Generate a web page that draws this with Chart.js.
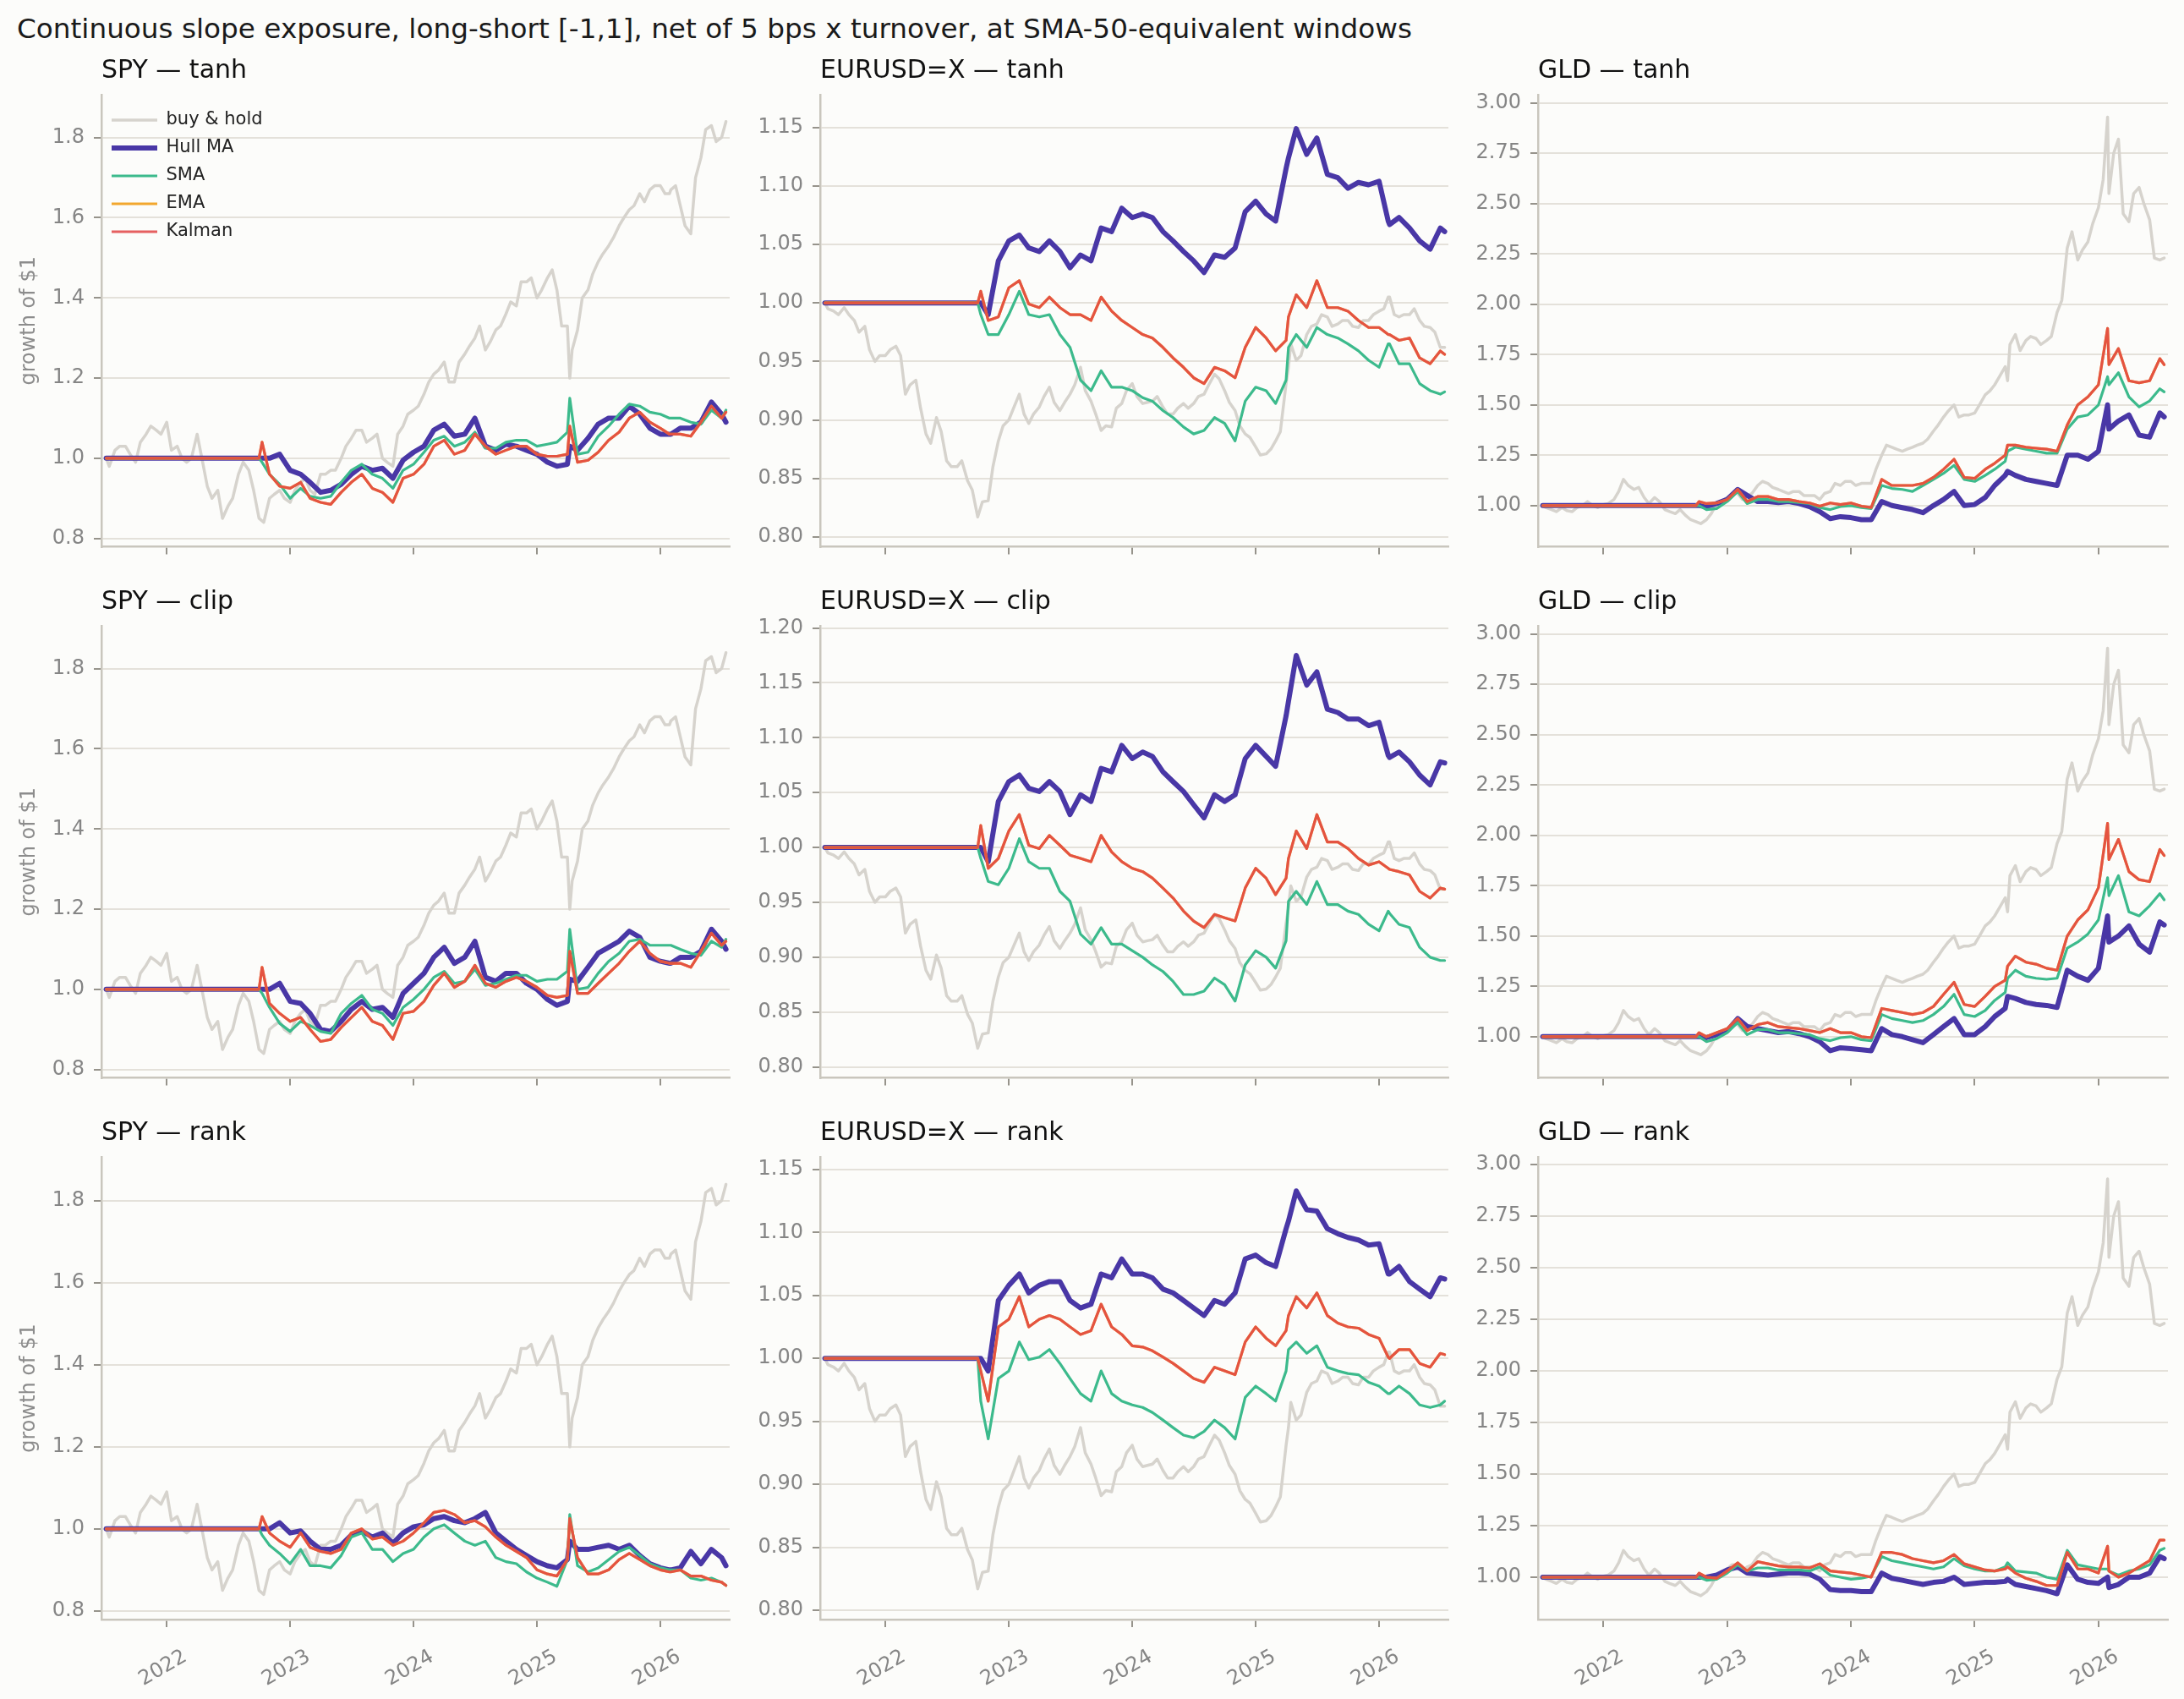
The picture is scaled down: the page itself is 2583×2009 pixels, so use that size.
<!DOCTYPE html>
<html>
<head>
<meta charset="utf-8">
<script src="https://cdn.jsdelivr.net/npm/chart.js@4"></script>
<style>
  body { margin: 0; background: #fcfcfa; width: 2583px; height: 2009px; position: relative; overflow: hidden; font-family: "DejaVu Sans", sans-serif; }
  #titulo { position: absolute; left: 20px; top: 15px; font-size: 32.7px; line-height: 38px; color: #1a1a1a; white-space: nowrap; }
  .panel { position: absolute; }
</style>
</head>
<body>
<div id="titulo">Continuous slope exposure, long-short [-1,1], net of 5 bps x turnover, at SMA-50-equivalent windows</div>
<script>
// sample dates for the strategies (roughly monthly, plus a few event days)
const dates = ['2021-07-06','2021-08-01','2021-09-01','2021-10-01','2021-11-01','2021-12-01',
  '2022-01-01','2022-02-01','2022-03-01','2022-04-01','2022-05-01','2022-06-01','2022-07-01','2022-08-01','2022-09-01','2022-10-01','2022-10-10','2022-11-01','2022-12-01',
  '2023-01-01','2023-02-01','2023-03-01','2023-04-01','2023-05-01','2023-06-01','2023-07-01','2023-08-01','2023-09-01','2023-10-01','2023-11-01','2023-12-01',
  '2024-01-01','2024-02-01','2024-03-01','2024-04-01','2024-05-01','2024-06-01','2024-07-01','2024-08-01','2024-09-01','2024-10-01','2024-11-01','2024-12-01',
  '2025-01-01','2025-02-01','2025-03-01','2025-04-01','2025-04-08','2025-05-01','2025-06-01','2025-07-01','2025-08-01','2025-09-01','2025-10-01','2025-11-01','2025-12-01',
  '2026-01-01','2026-01-28','2026-02-01','2026-03-01','2026-04-01','2026-05-01','2026-06-01','2026-07-01','2026-07-14'];

// buy & hold is read twice a month
const bhDates = ['2021-07-06','2021-07-15','2021-08-01','2021-08-15','2021-09-01','2021-09-15','2021-10-01','2021-10-15','2021-11-01','2021-11-15','2021-12-01','2021-12-15',
  '2022-01-01','2022-01-15','2022-02-01','2022-02-15','2022-03-01','2022-03-15','2022-04-01','2022-04-15','2022-05-01','2022-05-15','2022-06-01','2022-06-15',
  '2022-07-01','2022-07-15','2022-08-01','2022-08-15','2022-09-01','2022-09-15','2022-10-01','2022-10-15','2022-11-01','2022-11-15','2022-12-01','2022-12-15',
  '2023-01-01','2023-01-15','2023-02-01','2023-02-15','2023-03-01','2023-03-15','2023-04-01','2023-04-15','2023-05-01','2023-05-15','2023-06-01','2023-06-15',
  '2023-07-01','2023-07-15','2023-08-01','2023-08-15','2023-09-01','2023-09-15','2023-10-01','2023-10-15','2023-11-01','2023-11-15','2023-12-01','2023-12-15',
  '2024-01-01','2024-01-15','2024-02-01','2024-02-15','2024-03-01','2024-03-15','2024-04-01','2024-04-15','2024-05-01','2024-05-15','2024-06-01','2024-06-15',
  '2024-07-01','2024-07-15','2024-08-01','2024-08-15','2024-09-01','2024-09-15','2024-10-01','2024-10-15','2024-11-01','2024-11-15','2024-12-01','2024-12-15',
  '2025-01-01','2025-01-15','2025-02-01','2025-02-15','2025-03-01','2025-03-15','2025-04-01','2025-04-08','2025-04-15','2025-05-01','2025-05-15','2025-06-01','2025-06-15',
  '2025-07-01','2025-07-15','2025-08-01','2025-08-15','2025-09-01','2025-09-15','2025-10-01','2025-10-15','2025-11-01','2025-11-15','2025-12-01','2025-12-15',
  '2026-01-01','2026-01-15','2026-01-28','2026-02-01','2026-02-15','2026-03-01','2026-03-15','2026-04-01','2026-04-15','2026-05-01','2026-05-15','2026-06-01','2026-06-15',
  '2026-07-01','2026-07-14'];

const yearTicks = [2022, 2023, 2024, 2025, 2026];

// strategies sit flat at 1.0 during the warm-up window
const warmup = [1, 1, 1, 1, 1, 1, 1, 1, 1, 1, 1, 1, 1, 1, 1, 1];

// ---- SPY ----
const spyBH = [1.00, 0.98, 1.02, 1.03, 1.03, 1.01, 0.99, 1.04, 1.06, 1.08, 1.07, 1.06,
  1.09, 1.02, 1.03, 1.00, 0.99, 1.00, 1.06, 1.00, 0.93, 0.90, 0.92, 0.85,
  0.88, 0.90, 0.96, 0.99, 0.97, 0.92, 0.85, 0.84, 0.90, 0.91, 0.92, 0.90,
  0.89, 0.92, 0.94, 0.95, 0.92, 0.91, 0.96, 0.96, 0.97, 0.97, 1.00, 1.03,
  1.05, 1.07, 1.07, 1.04, 1.05, 1.06, 1.00, 0.99, 0.98, 1.06, 1.08, 1.11,
  1.12, 1.13, 1.16, 1.19, 1.21, 1.22, 1.24, 1.19, 1.19, 1.24, 1.26, 1.28,
  1.30, 1.33, 1.27, 1.29, 1.32, 1.33, 1.36, 1.39, 1.38, 1.44, 1.44, 1.45,
  1.40, 1.42, 1.45, 1.47, 1.42, 1.33, 1.33, 1.20, 1.27, 1.32, 1.40, 1.42, 1.46,
  1.49, 1.51, 1.53, 1.55, 1.58, 1.60, 1.62, 1.63, 1.66, 1.64, 1.67, 1.68,
  1.68, 1.66, 1.66, 1.67, 1.68, 1.63, 1.58, 1.56, 1.70, 1.75, 1.82, 1.83, 1.79,
  1.80, 1.84];

const spyTanhHull = [...warmup, 1.00, 1.00, 1.01,
  0.97, 0.96, 0.94, 0.915, 0.92, 0.935, 0.96, 0.98, 0.97, 0.975, 0.95, 0.995,
  1.015, 1.03, 1.07, 1.085, 1.055, 1.06, 1.10, 1.03, 1.02, 1.035, 1.03, 1.02,
  1.01, 0.99, 0.98, 0.985, 1.03, 1.02, 1.05, 1.085, 1.10, 1.10, 1.13, 1.11, 1.075,
  1.06, 1.06, 1.06, 1.075, 1.075, 1.09, 1.14, 1.11, 1.09];
const spyTanhSma = [...warmup, 0.99, 0.96, 0.935,
  0.90, 0.925, 0.905, 0.90, 0.905, 0.94, 0.97, 0.985, 0.96, 0.95, 0.925, 0.97,
  0.985, 1.015, 1.045, 1.055, 1.03, 1.04, 1.065, 1.025, 1.025, 1.04, 1.045, 1.045,
  1.03, 1.035, 1.04, 1.065, 1.15, 1.01, 1.015, 1.055, 1.08, 1.11, 1.135, 1.13, 1.115,
  1.11, 1.10, 1.10, 1.10, 1.09, 1.085, 1.12, 1.10, 1.12];
const spyTanhKalman = [...warmup, 1.04, 0.96, 0.93,
  0.925, 0.94, 0.90, 0.89, 0.885, 0.915, 0.94, 0.96, 0.925, 0.915, 0.89, 0.95,
  0.96, 0.985, 1.03, 1.045, 1.01, 1.02, 1.06, 1.03, 1.01, 1.02, 1.03, 1.03,
  1.01, 1.005, 1.005, 1.01, 1.08, 0.99, 0.995, 1.015, 1.045, 1.065, 1.10, 1.115, 1.09,
  1.075, 1.06, 1.06, 1.06, 1.055, 1.09, 1.13, 1.10, 1.115];

const spyClipHull = [...warmup, 1.00, 1.00, 1.015,
  0.97, 0.965, 0.94, 0.90, 0.895, 0.92, 0.95, 0.97, 0.95, 0.955, 0.93, 0.99,
  1.015, 1.04, 1.08, 1.105, 1.065, 1.08, 1.12, 1.03, 1.02, 1.04, 1.04, 1.015,
  1.00, 0.975, 0.96, 0.97, 1.025, 1.02, 1.055, 1.09, 1.105, 1.12, 1.145, 1.13, 1.08,
  1.07, 1.065, 1.065, 1.08, 1.08, 1.095, 1.15, 1.12, 1.10];
const spyClipSma = [...warmup, 0.99, 0.955, 0.915,
  0.895, 0.92, 0.91, 0.895, 0.89, 0.94, 0.965, 0.985, 0.95, 0.94, 0.91, 0.955,
  0.975, 1.00, 1.03, 1.045, 1.015, 1.02, 1.05, 1.01, 1.015, 1.025, 1.035, 1.035,
  1.02, 1.025, 1.025, 1.045, 1.15, 1.00, 1.005, 1.04, 1.07, 1.09, 1.12, 1.125, 1.11,
  1.11, 1.11, 1.11, 1.10, 1.09, 1.085, 1.12, 1.105, 1.125];
const spyClipKalman = [...warmup, 1.055, 0.965, 0.94,
  0.92, 0.93, 0.90, 0.87, 0.875, 0.905, 0.93, 0.955, 0.92, 0.91, 0.875, 0.94,
  0.945, 0.97, 1.01, 1.04, 1.005, 1.02, 1.06, 1.015, 1.005, 1.02, 1.03, 1.02,
  1.005, 0.985, 0.98, 0.985, 1.095, 0.99, 0.99, 1.015, 1.04, 1.065, 1.095, 1.12, 1.09,
  1.07, 1.065, 1.065, 1.065, 1.055, 1.095, 1.14, 1.11, 1.12];

const spyRankHull = [...warmup, 1.00, 1.00, 1.015,
  0.99, 0.995, 0.97, 0.95, 0.95, 0.96, 0.985, 0.995, 0.98, 0.99, 0.965, 0.99,
  1.005, 1.01, 1.025, 1.03, 1.02, 1.015, 1.025, 1.04, 0.99, 0.97, 0.95, 0.935,
  0.92, 0.91, 0.905, 0.925, 0.97, 0.95, 0.95, 0.955, 0.96, 0.95, 0.96, 0.935, 0.915,
  0.905, 0.90, 0.90, 0.905, 0.945, 0.915, 0.95, 0.93, 0.91];
const spyRankSma = [...warmup, 0.985, 0.96, 0.94,
  0.915, 0.95, 0.91, 0.91, 0.905, 0.935, 0.98, 0.99, 0.95, 0.95, 0.92, 0.94,
  0.95, 0.98, 1.00, 1.01, 0.99, 0.97, 0.96, 0.97, 0.93, 0.92, 0.915, 0.895,
  0.88, 0.87, 0.86, 0.925, 1.035, 0.91, 0.895, 0.905, 0.925, 0.945, 0.955, 0.935, 0.915,
  0.905, 0.90, 0.90, 0.90, 0.88, 0.875, 0.88, 0.87, 0.862];
const spyRankKalman = [...warmup, 1.03, 0.99, 0.97,
  0.955, 0.99, 0.955, 0.945, 0.94, 0.95, 0.99, 1.00, 0.975, 0.98, 0.96, 0.97,
  0.99, 1.015, 1.04, 1.045, 1.035, 1.015, 1.02, 1.005, 0.98, 0.96, 0.945, 0.93,
  0.90, 0.89, 0.885, 0.925, 1.025, 0.93, 0.89, 0.89, 0.90, 0.925, 0.94, 0.925, 0.91,
  0.90, 0.895, 0.895, 0.90, 0.885, 0.885, 0.875, 0.87, 0.862];

// ---- EURUSD=X ----
const eurBH = [1.000, 0.995, 0.993, 0.990, 0.996, 0.990, 0.985, 0.975, 0.980, 0.960, 0.950, 0.955,
  0.955, 0.960, 0.963, 0.955, 0.922, 0.930, 0.934, 0.910, 0.888, 0.880, 0.902, 0.890,
  0.865, 0.860, 0.860, 0.865, 0.848, 0.840, 0.817, 0.830, 0.831, 0.860, 0.882, 0.895,
  0.900, 0.910, 0.922, 0.905, 0.897, 0.905, 0.911, 0.920, 0.928, 0.915, 0.908, 0.915,
  0.922, 0.930, 0.945, 0.925, 0.916, 0.905, 0.891, 0.895, 0.894, 0.910, 0.914, 0.925,
  0.931, 0.920, 0.914, 0.915, 0.916, 0.920, 0.911, 0.905, 0.905, 0.910, 0.914, 0.910,
  0.914, 0.920, 0.922, 0.930, 0.939, 0.935, 0.925, 0.915, 0.908, 0.895, 0.888, 0.885,
  0.877, 0.870, 0.871, 0.875, 0.882, 0.890, 0.931, 0.945, 0.965, 0.951, 0.955, 0.973, 0.980,
  0.982, 0.990, 0.988, 0.980, 0.982, 0.985, 0.985, 0.980, 0.979, 0.985, 0.985, 0.990,
  0.993, 0.995, 1.005, 1.005, 0.990, 0.988, 0.990, 0.990, 0.995, 0.985, 0.980, 0.979, 0.975,
  0.962, 0.962];

const eurTanhHull = [...warmup, 1.00, 0.99, 1.036,
  1.053, 1.058, 1.047, 1.044, 1.053, 1.044, 1.03, 1.041, 1.036, 1.064, 1.061, 1.081,
  1.073, 1.076, 1.073, 1.061, 1.053, 1.044, 1.036, 1.026, 1.041, 1.039, 1.047, 1.078,
  1.087, 1.076, 1.07, 1.115, 1.124, 1.149, 1.127, 1.141, 1.11, 1.107, 1.098, 1.103, 1.101,
  1.104, 1.07, 1.067, 1.073, 1.064, 1.053, 1.046, 1.064, 1.061];
const eurTanhSma = [...warmup, 0.99, 0.973, 0.973,
  0.99, 1.01, 0.99, 0.988, 0.99, 0.973, 0.962, 0.934, 0.925, 0.942, 0.928, 0.928,
  0.925, 0.919, 0.916, 0.908, 0.902, 0.894, 0.888, 0.891, 0.902, 0.897, 0.882, 0.916,
  0.928, 0.925, 0.914, 0.934, 0.962, 0.973, 0.962, 0.979, 0.973, 0.97, 0.965, 0.959, 0.951,
  0.945, 0.965, 0.965, 0.948, 0.948, 0.931, 0.925, 0.922, 0.924];
const eurTanhKalman = [...warmup, 1.01, 0.985, 0.988,
  1.013, 1.019, 0.999, 0.996, 1.005, 0.996, 0.99, 0.99, 0.985, 1.005, 0.993, 0.985,
  0.979, 0.973, 0.97, 0.962, 0.953, 0.945, 0.936, 0.931, 0.945, 0.942, 0.936, 0.962,
  0.979, 0.97, 0.959, 0.968, 0.988, 1.007, 0.996, 1.019, 0.996, 0.996, 0.993, 0.985, 0.979,
  0.979, 0.973, 0.973, 0.968, 0.97, 0.953, 0.948, 0.959, 0.956];

const eurClipHull = [...warmup, 1.00, 0.987, 1.042,
  1.06, 1.066, 1.054, 1.051, 1.06, 1.051, 1.03, 1.048, 1.042, 1.072, 1.069, 1.093,
  1.081, 1.087, 1.083, 1.069, 1.06, 1.051, 1.039, 1.027, 1.048, 1.042, 1.048, 1.081,
  1.093, 1.083, 1.074, 1.12, 1.133, 1.175, 1.148, 1.16, 1.126, 1.123, 1.117, 1.117, 1.111,
  1.114, 1.084, 1.082, 1.087, 1.078, 1.066, 1.057, 1.078, 1.077];
const eurClipSma = [...warmup, 0.99, 0.969, 0.966,
  0.981, 1.008, 0.987, 0.981, 0.981, 0.96, 0.951, 0.921, 0.912, 0.927, 0.912, 0.912,
  0.906, 0.90, 0.893, 0.887, 0.878, 0.866, 0.866, 0.869, 0.881, 0.875, 0.86, 0.893,
  0.906, 0.90, 0.89, 0.915, 0.951, 0.96, 0.948, 0.969, 0.948, 0.948, 0.942, 0.939, 0.93,
  0.924, 0.942, 0.94, 0.93, 0.927, 0.909, 0.90, 0.897, 0.897];
const eurClipKalman = [...warmup, 1.02, 0.981, 0.99,
  1.015, 1.03, 1.002, 0.999, 1.011, 1.002, 0.993, 0.99, 0.987, 1.011, 0.996, 0.987,
  0.981, 0.978, 0.972, 0.963, 0.954, 0.942, 0.933, 0.927, 0.939, 0.936, 0.933, 0.963,
  0.981, 0.972, 0.957, 0.972, 0.99, 1.015, 0.999, 1.03, 1.005, 1.005, 0.999, 0.99, 0.984,
  0.987, 0.981, 0.98, 0.978, 0.975, 0.96, 0.954, 0.963, 0.962];

const eurRankHull = [...warmup, 1.00, 0.99, 1.046,
  1.058, 1.067, 1.052, 1.058, 1.061, 1.061, 1.046, 1.04, 1.043, 1.067, 1.064, 1.079,
  1.067, 1.067, 1.064, 1.055, 1.052, 1.046, 1.04, 1.034, 1.046, 1.043, 1.052, 1.079,
  1.082, 1.076, 1.073, 1.103, 1.109, 1.133, 1.118, 1.117, 1.103, 1.099, 1.096, 1.094, 1.09,
  1.091, 1.067, 1.067, 1.073, 1.061, 1.055, 1.049, 1.064, 1.063];
const eurRankSma = [...warmup, 0.966, 0.936, 0.984,
  0.99, 1.013, 0.999, 1.001, 1.007, 0.996, 0.984, 0.972, 0.966, 0.99, 0.972, 0.966,
  0.963, 0.961, 0.957, 0.951, 0.945, 0.939, 0.937, 0.942, 0.951, 0.945, 0.936, 0.969,
  0.978, 0.972, 0.966, 0.99, 1.007, 1.013, 1.004, 1.01, 0.993, 0.99, 0.988, 0.987, 0.981,
  0.978, 0.972, 0.972, 0.978, 0.972, 0.963, 0.961, 0.963, 0.966];
const eurRankKalman = [...warmup, 0.99, 0.966, 1.025,
  1.031, 1.049, 1.025, 1.031, 1.034, 1.031, 1.025, 1.019, 1.022, 1.043, 1.025, 1.019,
  1.01, 1.009, 1.006, 1.001, 0.996, 0.99, 0.984, 0.981, 0.993, 0.99, 0.987, 1.013,
  1.025, 1.016, 1.01, 1.022, 1.034, 1.049, 1.04, 1.052, 1.034, 1.028, 1.025, 1.024, 1.019,
  1.016, 1.001, 1.0, 1.007, 1.007, 0.996, 0.993, 1.004, 1.003];

// ---- GLD ----
const gldBH = [1.00, 0.99, 0.98, 0.97, 0.99, 0.975, 0.97, 0.99, 1.00, 1.02, 1.00, 0.99,
  1.005, 1.01, 1.03, 1.07, 1.13, 1.10, 1.08, 1.09, 1.04, 1.01, 1.04, 1.02,
  0.98, 0.97, 0.96, 0.98, 0.95, 0.93, 0.92, 0.91, 0.93, 0.96, 1.01, 1.02,
  1.04, 1.06, 1.06, 1.03, 1.05, 1.06, 1.10, 1.12, 1.11, 1.09, 1.08, 1.07,
  1.06, 1.07, 1.07, 1.05, 1.05, 1.05, 1.03, 1.06, 1.07, 1.11, 1.10, 1.12,
  1.12, 1.10, 1.11, 1.11, 1.11, 1.18, 1.25, 1.30, 1.29, 1.28, 1.27, 1.28,
  1.29, 1.30, 1.31, 1.33, 1.37, 1.40, 1.44, 1.47, 1.50, 1.44, 1.45, 1.45,
  1.46, 1.50, 1.55, 1.57, 1.60, 1.64, 1.69, 1.62, 1.80, 1.85, 1.77, 1.82, 1.84,
  1.83, 1.80, 1.82, 1.84, 1.96, 2.02, 2.28, 2.36, 2.22, 2.27, 2.31, 2.40,
  2.48, 2.62, 2.93, 2.55, 2.75, 2.82, 2.45, 2.41, 2.55, 2.58, 2.50, 2.42, 2.23,
  2.22, 2.23];

const gldTanhHull = [...warmup, 1.00, 0.995, 1.01,
  1.03, 1.08, 1.05, 1.02, 1.02, 1.015, 1.02, 1.01, 0.995, 0.97, 0.935, 0.945,
  0.94, 0.93, 0.93, 1.02, 1.00, 0.99, 0.98, 0.965, 1.00, 1.03, 1.07, 1.00,
  1.005, 1.04, 1.10, 1.15, 1.17, 1.15, 1.13, 1.12, 1.11, 1.10, 1.25, 1.25, 1.23,
  1.27, 1.50, 1.38, 1.42, 1.45, 1.35, 1.34, 1.46, 1.44];
const gldTanhSma = [...warmup, 1.00, 0.98, 0.985,
  1.02, 1.07, 1.01, 1.03, 1.03, 1.02, 1.02, 1.015, 1.01, 0.99, 0.98, 0.995,
  1.00, 0.99, 0.985, 1.10, 1.085, 1.08, 1.07, 1.10, 1.13, 1.16, 1.20, 1.13,
  1.12, 1.15, 1.18, 1.22, 1.27, 1.29, 1.28, 1.27, 1.26, 1.26, 1.38, 1.44, 1.45,
  1.50, 1.64, 1.60, 1.66, 1.54, 1.49, 1.52, 1.58, 1.565];
const gldTanhKalman = [...warmup, 1.02, 1.01, 1.013,
  1.03, 1.08, 1.02, 1.045, 1.045, 1.03, 1.03, 1.02, 1.013, 0.997, 1.013, 1.005,
  1.013, 0.997, 0.99, 1.13, 1.10, 1.10, 1.10, 1.11, 1.14, 1.18, 1.23, 1.14,
  1.135, 1.18, 1.21, 1.25, 1.30, 1.30, 1.29, 1.285, 1.28, 1.27, 1.40, 1.50, 1.54,
  1.60, 1.88, 1.70, 1.78, 1.62, 1.61, 1.62, 1.73, 1.70];

const gldClipHull = [...warmup, 1.00, 0.995, 1.01,
  1.03, 1.09, 1.05, 1.04, 1.03, 1.02, 1.025, 1.015, 1.00, 0.975, 0.93, 0.945,
  0.94, 0.935, 0.93, 1.04, 1.01, 1.00, 0.985, 0.97, 1.01, 1.05, 1.09, 1.01,
  1.01, 1.05, 1.10, 1.14, 1.20, 1.19, 1.17, 1.16, 1.155, 1.145, 1.33, 1.30, 1.28,
  1.34, 1.60, 1.47, 1.50, 1.55, 1.46, 1.42, 1.57, 1.555];
const gldClipSma = [...warmup, 1.00, 0.975, 0.99,
  1.02, 1.07, 1.01, 1.035, 1.035, 1.02, 1.02, 1.015, 1.01, 0.99, 0.98, 0.995,
  1.00, 0.985, 0.98, 1.11, 1.09, 1.08, 1.07, 1.08, 1.11, 1.15, 1.21, 1.11,
  1.10, 1.13, 1.18, 1.22, 1.29, 1.33, 1.30, 1.29, 1.285, 1.29, 1.44, 1.47, 1.51,
  1.58, 1.79, 1.70, 1.80, 1.62, 1.60, 1.65, 1.71, 1.68];
const gldClipKalman = [...warmup, 1.02, 1.00, 1.02,
  1.04, 1.09, 1.03, 1.06, 1.07, 1.05, 1.045, 1.04, 1.03, 1.02, 1.04, 1.02,
  1.02, 1.00, 0.995, 1.14, 1.13, 1.12, 1.11, 1.12, 1.15, 1.21, 1.27, 1.16,
  1.15, 1.20, 1.25, 1.28, 1.35, 1.40, 1.37, 1.36, 1.34, 1.33, 1.50, 1.58, 1.63,
  1.74, 2.06, 1.88, 1.98, 1.82, 1.78, 1.77, 1.93, 1.90];

const gldRankHull = [...warmup, 1.00, 1.00, 1.01,
  1.035, 1.05, 1.02, 1.015, 1.01, 1.015, 1.02, 1.02, 1.015, 0.99, 0.94, 0.935,
  0.935, 0.93, 0.93, 1.02, 0.995, 0.985, 0.975, 0.965, 0.975, 0.98, 1.00, 0.965,
  0.97, 0.975, 0.975, 0.98, 0.99, 0.965, 0.955, 0.945, 0.935, 0.92, 1.06, 0.99, 0.975,
  0.97, 1.00, 0.95, 0.965, 1.00, 1.00, 1.02, 1.10, 1.09];
const gldRankSma = [...warmup, 1.00, 0.985, 0.99,
  1.02, 1.06, 1.03, 1.045, 1.045, 1.035, 1.035, 1.035, 1.03, 1.05, 1.01, 1.00,
  0.99, 0.995, 1.005, 1.10, 1.08, 1.07, 1.06, 1.05, 1.04, 1.05, 1.09, 1.055,
  1.04, 1.03, 1.03, 1.05, 1.07, 1.03, 1.025, 1.02, 1.00, 0.99, 1.13, 1.06, 1.05,
  1.04, 1.04, 1.03, 1.01, 1.03, 1.04, 1.06, 1.13, 1.14];
const gldRankKalman = [...warmup, 1.02, 1.00, 0.995,
  1.03, 1.07, 1.03, 1.075, 1.065, 1.055, 1.05, 1.05, 1.045, 1.065, 1.03, 1.025,
  1.02, 1.01, 1.00, 1.12, 1.12, 1.11, 1.09, 1.08, 1.07, 1.08, 1.11, 1.065,
  1.05, 1.035, 1.03, 1.04, 1.05, 1.02, 0.995, 0.98, 0.96, 0.96, 1.12, 1.04, 1.04,
  1.02, 1.15, 1.03, 1.00, 1.02, 1.05, 1.08, 1.18, 1.18];

// axis settings per asset
const yLimits = {
  SPY: { tanh: [0.779, 1.907], clip: [0.779, 1.907], rank: [0.779, 1.907] },
  'EURUSD=X': { tanh: [0.7915, 1.178], clip: [0.790, 1.202], rank: [0.7926, 1.160] },
  GLD: { tanh: [0.795, 3.041], clip: [0.795, 3.041], rank: [0.795, 3.037] }
};
const yStep = { SPY: 0.2, 'EURUSD=X': 0.05, GLD: 0.25 };
const yDecimals = { SPY: 1, 'EURUSD=X': 2, GLD: 2 };

// grid of panels: [asset, method, buy&hold, hull, sma, kalman]
// EMA ends up exactly under Kalman, so it reuses the same values
const panels = [
  ['SPY', 'tanh', spyBH, spyTanhHull, spyTanhSma, spyTanhKalman],
  ['EURUSD=X', 'tanh', eurBH, eurTanhHull, eurTanhSma, eurTanhKalman],
  ['GLD', 'tanh', gldBH, gldTanhHull, gldTanhSma, gldTanhKalman],
  ['SPY', 'clip', spyBH, spyClipHull, spyClipSma, spyClipKalman],
  ['EURUSD=X', 'clip', eurBH, eurClipHull, eurClipSma, eurClipKalman],
  ['GLD', 'clip', gldBH, gldClipHull, gldClipSma, gldClipKalman],
  ['SPY', 'rank', spyBH, spyRankHull, spyRankSma, spyRankKalman],
  ['EURUSD=X', 'rank', eurBH, eurRankHull, eurRankSma, eurRankKalman],
  ['GLD', 'rank', gldBH, gldRankHull, gldRankSma, gldRankKalman]
];

// layout (pixels of the page)
const colLeft = [120, 970, 1819];
const colRight = [863, 1713, 2564];
const rowTop = [112, 740, 1368];
const rowBottom = [660, 1288, 1915];
const axisW = 120;
const titleH = 50;
const padR = 4;

Chart.defaults.font.family = '"DejaVu Sans", sans-serif';

function toYear(d) {
  const t = Date.parse(d + 'T00:00:00Z');
  const y = new Date(t).getUTCFullYear();
  const a = Date.UTC(y, 0, 1);
  const b = Date.UTC(y + 1, 0, 1);
  return y + (t - a) / (b - a);
}

const xs = dates.map(toYear);
const bhXs = bhDates.map(toYear);
const xMin = toYear('2021-06-22');
const xMax = toYear('2026-07-25');

function pts(arr, xv) {
  return arr.map((v, i) => ({ x: xv[i], y: v }));
}

const tickGray = '#858585';
const spineColor = '#c9c6bd';
const tickMark = '#96938b';

function makePanel(idx) {
  const [asset, method, bh, hull, sma, kalman] = panels[idx];
  const r = Math.floor(idx / 3);
  const c = idx % 3;
  const xH = r === 2 ? 95 : 12;
  const w = colRight[c] - colLeft[c] + axisW + padR;
  const h = rowBottom[r] - rowTop[r] + titleH + xH;

  const div = document.createElement('div');
  div.className = 'panel';
  div.style.left = (colLeft[c] - axisW) + 'px';
  div.style.top = (rowTop[r] - titleH) + 'px';
  const canvas = document.createElement('canvas');
  canvas.width = w;
  canvas.height = h;
  canvas.style.width = w + 'px';
  canvas.style.height = h + 'px';
  div.appendChild(canvas);
  document.body.appendChild(div);

  const lim = yLimits[asset][method];
  const dec = yDecimals[asset];

  new Chart(canvas, {
    type: 'line',
    data: {
      datasets: [
        { label: 'buy & hold', data: pts(bh, bhXs), borderColor: '#d6d3cd', borderWidth: 3.5, order: 5 },
        { label: 'Hull MA', data: pts(hull, xs), borderColor: '#4937a6', borderWidth: 6, order: 4 },
        { label: 'SMA', data: pts(sma, xs), borderColor: '#3cba8c', borderWidth: 3.2, order: 3 },
        { label: 'EMA', data: pts(kalman, xs), borderColor: '#f2a72e', borderWidth: 3.2, order: 2 },
        { label: 'Kalman', data: pts(kalman, xs), borderColor: 'rgba(226,68,68,0.85)', borderWidth: 3.2, order: 1 }
      ]
    },
    options: {
      responsive: false,
      animation: false,
      devicePixelRatio: 1,
      events: [],
      layout: { padding: { right: padR } },
      elements: {
        point: { radius: 0 },
        line: { borderJoinStyle: 'round', borderCapStyle: 'round', tension: 0 }
      },
      scales: {
        x: {
          type: 'linear',
          min: xMin,
          max: xMax,
          afterBuildTicks: s => { s.ticks = yearTicks.map(v => ({ value: v })); },
          afterFit: s => { s.height = xH; },
          grid: { drawOnChartArea: false, drawTicks: true, tickLength: 9, tickColor: tickMark, tickWidth: 2, lineWidth: 2 },
          border: { display: true, color: spineColor, width: 2.5 },
          ticks: {
            display: r === 2,
            autoSkip: false,
            minRotation: 30,
            maxRotation: 30,
            padding: 21,
            labelOffset: 22,
            color: tickGray,
            font: { size: 24 },
            callback: v => String(v)
          }
        },
        y: {
          min: lim[0],
          max: lim[1],
          afterFit: s => { s.width = axisW; },
          grid: { color: '#e4e1da', lineWidth: 2, drawTicks: true, tickLength: 9, tickColor: tickMark, tickWidth: 2 },
          border: { display: true, color: spineColor, width: 2.5 },
          ticks: {
            stepSize: yStep[asset],
            includeBounds: false,
            padding: 11,
            color: tickGray,
            font: { size: 24 },
            callback: v => v.toFixed(dec)
          },
          title: {
            display: c === 0,
            text: 'growth of $1',
            color: '#8c8c8c',
            font: { size: 24 },
            padding: { top: 20, bottom: 0 }
          }
        }
      },
      plugins: {
        tooltip: { enabled: false },
        title: {
          display: true,
          text: asset + ' \u2014 ' + method,
          align: 'start',
          fullSize: false,
          color: '#111111',
          font: { size: 30, weight: 'normal' },
          padding: { top: 4, bottom: 10 }
        },
        legend: {
          display: idx === 0,
          position: 'chartArea',
          align: 'start',
          // empty title only pushes the entries below the panel title
          title: { display: true, text: ' ', font: { size: 20 }, padding: { top: 33.5, bottom: 0 } },
          labels: {
            usePointStyle: true,
            pointStyle: 'line',
            pointStyleWidth: 54,
            padding: 12,
            color: '#222222',
            font: { size: 21 },
            sort: (a, b) => a.datasetIndex - b.datasetIndex
          }
        }
      }
    }
  });
}

for (let i = 0; i < panels.length; i++) {
  makePanel(i);
}
</script>
</body>
</html>
